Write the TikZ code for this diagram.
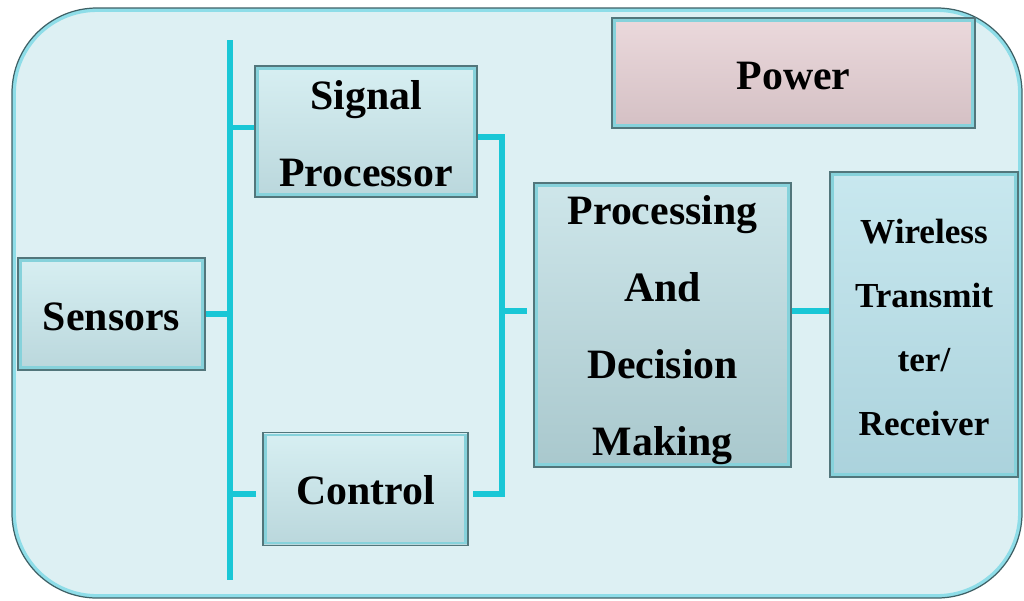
\documentclass[tikz,border=0pt]{standalone}
\usepackage{fontspec}
\setmainfont{Liberation Serif}
\usetikzlibrary{calc}

\definecolor{wirecyan}{HTML}{19C7D6}
\definecolor{panelfill}{HTML}{DDF0F3}
\definecolor{paneledge}{HTML}{3F6166}
\definecolor{panelglow}{HTML}{8EDDE8}
\definecolor{boxedge}{HTML}{52767B}
\definecolor{bevel}{HTML}{86D2DB}
\definecolor{lighttop}{HTML}{D7EFF2}
\definecolor{lightmid}{HTML}{CFE9EC}
\definecolor{lightbot}{HTML}{BAD7DC}
\definecolor{greytop}{HTML}{CEE6EA}
\definecolor{greymid}{HTML}{C4DFE3}
\definecolor{greybot}{HTML}{A9C8CD}
\definecolor{bluetop}{HTML}{C8E8EF}
\definecolor{bluemid}{HTML}{BFE2EB}
\definecolor{bluebot}{HTML}{ABD2DC}
\definecolor{pinktop}{HTML}{EBD9DC}
\definecolor{pinkmid}{HTML}{E6D3D6}
\definecolor{pinkbot}{HTML}{D4C0C4}

\newcommand\bigbold{\fontsize{23.8}{43.7}\selectfont\bfseries}
\newcommand\smallbold{\fontsize{20}{36.4}\selectfont\bfseries}

\tikzset{
  blockbox/.style n args={3}{rectangle, draw=boxedge, line width=0.9pt,
    top color=#1, middle color=#2, bottom color=#3, inner sep=0pt,
    path picture={\draw[bevel, line width=1.6pt]
      ([shift={(1.4pt,-1.4pt)}]path picture bounding box.north west) rectangle
      ([shift={(-1.4pt,1.4pt)}]path picture bounding box.south east);}},
  lightbox/.style={blockbox={lighttop}{lightmid}{lightbot}},
  greybox/.style={blockbox={greytop}{greymid}{greybot}},
  bluebox/.style={blockbox={bluetop}{bluemid}{bluebot}},
  pinkbox/.style={blockbox={pinktop}{pinkmid}{pinkbot}},
  boxtext/.style={inner sep=0pt, align=center, font=\bigbold, text=black},
  smalltext/.style={boxtext, font=\smallbold},
  wire/.style={draw=wirecyan, line width=2.9pt},
}

\begin{document}
\begin{tikzpicture}[x=0.02cm, y=-0.02cm]
\useasboundingbox (0,0) rectangle (1024,600);
\fill[white] (0,0) rectangle (1024,600);

% outer panel: inner glow, then the dark rim on top
\draw[fill=panelfill, draw=panelglow, line width=2.2pt, rounded corners=1.66cm]
  (14,10) rectangle (1020,596);
\draw[draw=paneledge, line width=0.7pt, rounded corners=1.7cm]
  (12,8) rectangle (1022,598);

% blocks
\node[lightbox, minimum width=3.74cm, minimum height=2.24cm] (sen) at (111.5,314) {};
\node[lightbox, minimum width=4.44cm, minimum height=2.62cm] (sig) at (366,131.5) {};
\node[lightbox, minimum width=4.10cm, minimum height=2.26cm] (ctl) at (365.5,489) {};
\node[pinkbox, minimum width=7.26cm, minimum height=2.20cm] (pow) at (793.5,73) {};
\node[greybox, minimum width=5.14cm, minimum height=5.68cm] (proc) at (662.5,325) {};
\node[bluebox, minimum width=3.76cm, minimum height=6.10cm] (wl) at (924,324.5) {};

% block labels
\node[boxtext, yshift=-0.06cm] (senT) at (sen) {Sensors};
\node[boxtext, yshift=-0.05cm] (sigT) at (sig) {Signal\\Processor};
\node[boxtext, yshift=-0.02cm] (ctlT) at (ctl) {Control};
\node[boxtext, yshift=-0.06cm] (powT) at (pow) {Power};
\node[boxtext, yshift=-0.10cm] (procT) at (proc) {Processing\\And\\Decision\\Making};
\node[smalltext, yshift=-0.06cm] (wlT) at (wl) {Wireless\\Transmit\\ter/\\Receiver};

% bus and junction points
\coordinate (busTop) at (230,40);
\coordinate (busBot) at (230,580);
\coordinate (join) at (502,311);
\coordinate (sigL) at ($(sig.west)+(0,-4)$);
\coordinate (sigR) at ($(sig.east)+(0,5.5)$);
\coordinate (ctlL) at ($(ctl.west)+(-6,5)$);
\coordinate (ctlR) at ($(ctl.east)+(4,5)$);
\coordinate (procL) at ($(join -| proc.west)+(-6,0)$);

% connectors
\draw[wire] (busTop) -- (busBot);
\draw[wire] (sen.east) -- (sen.east -| busTop);
\draw[wire] (sigL) -- (sigL -| busTop);
\draw[wire] (ctlL) -- (ctlL -| busTop);
\draw[wire] (sigR) -- (sigR -| join) -- (ctlR -| join) -- (ctlR);
\draw[wire] (join) -- (procL);
\draw[wire] (join -| proc.east) -- (join -| wl.west);
\end{tikzpicture}
\end{document}
